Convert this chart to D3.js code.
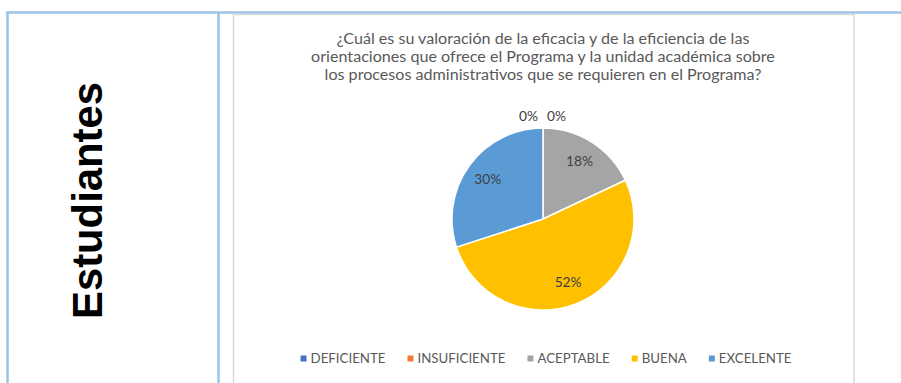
<!DOCTYPE html>
<html>
<head>
<meta charset="utf-8">
<script src="https://cdn.jsdelivr.net/npm/d3@7"></script>
<style>
  html, body { margin: 0; padding: 0; background: #ffffff; overflow: hidden; }
  svg { display: block; }
</style>
</head>
<body>
<svg id="chart" width="901" height="383"></svg>
<script>
// Survey answers and their shares (%)
const categories = ["DEFICIENTE", "INSUFICIENTE", "ACEPTABLE", "BUENA", "EXCELENTE"];
const percentages = [0, 0, 18, 52, 30];
const sliceColors = ["#4472c4", "#ed7d31", "#a5a5a5", "#ffc000", "#5b9bd5"];
const titleLines = [
  "¿Cuál es su valoración de la eficacia y de la eficiencia de las",
  "orientaciones que ofrece el Programa y la unidad académica sobre",
  "los procesos administrativos que se requieren en el Programa?"
];
const rowLabel = "Estudiantes";

const svg = d3.select("#chart");
const W = 901, H = 383;
const textFont = "Lato, 'Open Sans', sans-serif";

// Helper: font size that gives a string a wanted rendered width
function fitSize(str, family, weight, targetWidth) {
  const t = svg.append("text").attr("font-family", family).attr("font-weight", weight)
    .attr("font-size", 100).text(str);
  const w = t.node().getComputedTextLength();
  t.remove();
  return 100 * targetWidth / w;
}

// ---- table frame ----
const frame = svg.append("g").attr("stroke", "#9dc3e6").attr("stroke-width", 2.5).attr("fill", "none");
frame.append("line").attr("x1", 6).attr("x2", W).attr("y1", 12.5).attr("y2", 12.5);
frame.append("line").attr("x1", 7.5).attr("x2", 7.5).attr("y1", 12).attr("y2", H);
frame.append("line").attr("x1", 218.5).attr("x2", 218.5).attr("y1", 12).attr("y2", H);

// ---- row header ----
const rowSize = fitSize(rowLabel, "'Liberation Sans', Arial, sans-serif", "bold", 237);
svg.append("text")
  .attr("transform", "translate(102,200.5) rotate(-90)")
  .attr("text-anchor", "middle")
  .attr("font-family", "'Liberation Sans', Arial, sans-serif")
  .attr("font-weight", "bold")
  .attr("font-size", rowSize)
  .attr("fill", "#000000")
  .text(rowLabel);

// ---- chart area ----
const area = { x: 233.5, y: 14.5, w: 620.5, h: 400 };
svg.append("rect")
  .attr("x", area.x).attr("y", area.y).attr("width", area.w).attr("height", area.h)
  .attr("fill", "#ffffff").attr("stroke", "#d9d9d9").attr("stroke-width", 1.5);

const cx = 543;

// Title
const titleSize = fitSize(titleLines[0], textFont, "normal", 413);
svg.append("g").selectAll("text").data(titleLines).join("text")
  .attr("x", cx)
  .attr("y", (d, i) => 44 + i * 18.2)
  .attr("text-anchor", "middle")
  .attr("font-family", textFont)
  .attr("font-size", titleSize)
  .attr("fill", "#595959")
  .text(d => d);

// Pie
const cy = 219, radius = 91;
const pie = d3.pie().sort(null).value(d => d.value);
const arcs = pie(categories.map((c, i) => ({ name: c, value: percentages[i], color: sliceColors[i] })));
const arcGen = d3.arc().innerRadius(0).outerRadius(radius);
const labelArc = d3.arc().innerRadius(radius * 0.75).outerRadius(radius * 0.75);

const g = svg.append("g").attr("transform", `translate(${cx},${cy})`);
g.selectAll("path").data(arcs.filter(a => a.data.value > 0)).join("path")
  .attr("d", arcGen)
  .attr("fill", d => d.data.color)
  .attr("stroke", "#ffffff")
  .attr("stroke-width", 1.5)
  .attr("stroke-linejoin", "round");

const labelSize = fitSize("52%", textFont, "normal", 27);
// Non-zero shares: labels inside the slice
g.selectAll("text.inside").data(arcs.filter(a => a.data.value > 0)).join("text")
  .attr("class", "inside")
  .attr("transform", d => `translate(${labelArc.centroid(d)})`)
  .attr("text-anchor", "middle")
  .attr("dy", "0.35em")
  .attr("font-family", textFont)
  .attr("font-size", labelSize)
  .attr("fill", "#404040")
  .text(d => d.data.value + "%");

// Zero shares: labels just outside the rim, spread either side
const zeros = arcs.filter(a => a.data.value === 0);
const outer = d3.arc().innerRadius(radius + 12).outerRadius(radius + 12);
g.selectAll("text.outside").data(zeros).join("text")
  .attr("class", "outside")
  .attr("transform", (d, i) => {
    const [x, y] = outer.centroid(d);
    return `translate(${x + (i === 0 ? -5 : 4)},${y})`;
  })
  .attr("text-anchor", (d, i) => i === 0 ? "end" : "start")
  .attr("dy", "0.35em")
  .attr("font-family", textFont)
  .attr("font-size", labelSize)
  .attr("fill", "#404040")
  .text(d => d.data.value + "%");

// Legend
const legendSize = fitSize("DEFICIENTE", textFont, "normal", 75);
const legend = svg.append("g");
const items = legend.selectAll("g").data(categories).join("g");
items.append("rect")
  .attr("y", -7.5).attr("width", 6).attr("height", 6)
  .attr("fill", (d, i) => sliceColors[i]);
items.append("text")
  .attr("x", 10)
  .attr("font-family", textFont)
  .attr("font-size", legendSize)
  .attr("fill", "#595959")
  .text(d => d);
let offset = 0;
const widths = [];
items.each(function () {
  const w = 10 + d3.select(this).select("text").node().getComputedTextLength();
  widths.push(w);
});
const gap = 22;
const total = d3.sum(widths) + gap * (widths.length - 1);
let x0 = 546 - total / 2;
items.attr("transform", (d, i) => {
  const x = x0;
  x0 += widths[i] + gap;
  return `translate(${x},363)`;
});
</script>
</body>
</html>
